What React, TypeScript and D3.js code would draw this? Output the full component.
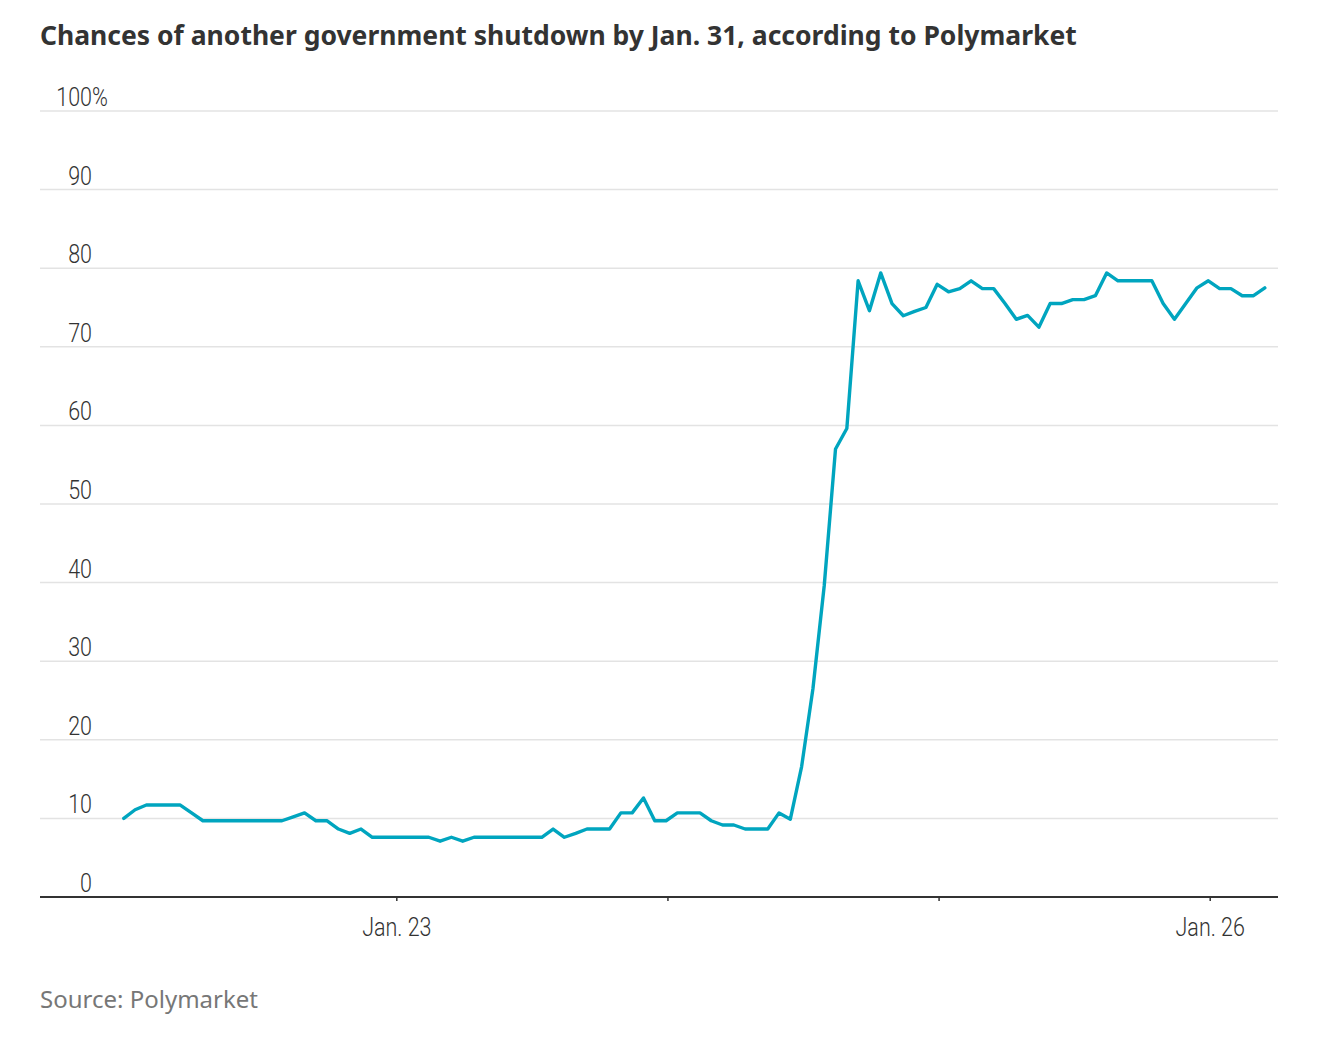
import React from "react";
import * as d3 from "d3";

const title = "Chances of another government shutdown by Jan. 31, according to Polymarket";
const source = "Source: Polymarket";

// Hourly readings starting Jan. 21, 23:50 (chance, %)
const seriesStart = "2026-01-21T23:50:00";
const chance: number[] = [
  10, 11.1, 11.7, 11.7, 11.7, 11.7, 10.7, 9.7, 9.7, 9.7,
  9.7, 9.7, 9.7, 9.7, 9.7, 10.2, 10.7, 9.7, 9.7, 8.65,
  8.1, 8.65, 7.6, 7.6, 7.6, 7.6, 7.6, 7.6, 7.1, 7.6,
  7.1, 7.6, 7.6, 7.6, 7.6, 7.6, 7.6, 7.6, 8.65, 7.6,
  8.1, 8.65, 8.65, 8.65, 10.7, 10.7, 12.6, 9.7, 9.7, 10.7,
  10.7, 10.7, 9.7, 9.16, 9.16, 8.65, 8.65, 8.65, 10.7, 9.9,
  16.6, 26.5, 39.6, 57, 59.6, 78.4, 74.6, 79.4, 75.5, 73.95,
  74.5, 75, 77.95, 77.0, 77.4, 78.4, 77.4, 77.4, 75.5, 73.5,
  74, 72.5, 75.5, 75.5, 76, 76, 76.5, 79.4, 78.4, 78.4,
  78.4, 78.4, 75.5, 73.5, 75.5, 77.5, 78.4, 77.4, 77.4, 76.5,
  76.5, 77.5,
];

const yTicks = [0, 10, 20, 30, 40, 50, 60, 70, 80, 90, 100];
const xTickDates = ["2026-01-23", "2026-01-24", "2026-01-25", "2026-01-26"];
const xTickLabels = ["Jan. 23", "", "", "Jan. 26"];
const xDomain = ["2026-01-21T16:25:00", "2026-01-26T06:00:00"];

const W = 1317;
const H = 1037;
const left = 40;
const right = 1278;
const top = 111;
const bottom = 897;

const labelFont = "Roboto, 'Noto Sans', sans-serif";
const narrow = 0.86;

function NarrowText({
  x,
  y,
  anchor,
  children,
}: {
  x: number;
  y: number;
  anchor: "start" | "middle" | "end";
  children: React.ReactNode;
}) {
  return (
    <text
      transform={`translate(${x},${y}) scale(${narrow},1)`}
      textAnchor={anchor}
      fontFamily={labelFont}
      fontWeight={300}
      fontSize={25}
      fill="#333"
    >
      {children}
    </text>
  );
}

export default function App() {
  const parse = (s: string) => new Date(s);
  const startDate = parse(seriesStart);
  const data = chance.map((v, i) => ({
    t: d3.timeHour.offset(startDate, i),
    v,
  }));

  const x = d3.scaleTime().domain(xDomain.map(parse)).range([left, right]);
  const y = d3.scaleLinear().domain([0, 100]).range([bottom, top]);

  const line = d3
    .line<{ t: Date; v: number }>()
    .x((d) => x(d.t))
    .y((d) => y(d.v));

  return (
    <svg
      width={W}
      height={H}
      style={{ position: "absolute", left: 0, top: 0, background: "#fff" }}
    >
      <text
        x={40}
        y={45}
        fontFamily="'Noto Sans', sans-serif"
        fontWeight={700}
        fontSize={26.5}
        fill="#333"
      >
        {title}
      </text>

      {yTicks.map((t) => (
        <g key={t}>
          {t > 0 && (
            <line
              x1={left}
              x2={right}
              y1={y(t)}
              y2={y(t)}
              stroke="#e3e3e3"
              strokeWidth={1.5}
            />
          )}
          <NarrowText x={92} y={y(t) - 5} anchor="end">
            {t}
          </NarrowText>
          {t === 100 && (
            <NarrowText x={92} y={y(t) - 5} anchor="start">
              %
            </NarrowText>
          )}
        </g>
      ))}

      <path
        d={line(data) || ""}
        fill="none"
        stroke="#00a5bf"
        strokeWidth={3.4}
        strokeLinejoin="round"
        strokeLinecap="round"
      />

      <line x1={left} x2={right} y1={bottom} y2={bottom} stroke="#333" strokeWidth={2} />
      {xTickDates.map((d, i) => {
        const xp = x(parse(d + "T00:00:00"));
        return (
          <g key={d}>
            <line x1={xp} x2={xp} y1={bottom} y2={bottom + 4} stroke="#333" strokeWidth={1.5} />
            {xTickLabels[i] && (
              <NarrowText x={xp} y={936} anchor="middle">
                {xTickLabels[i]}
              </NarrowText>
            )}
          </g>
        );
      })}

      <text
        x={40}
        y={1008}
        fontFamily="'Noto Sans', sans-serif"
        fontSize={24}
        fill="#777"
      >
        {source}
      </text>
    </svg>
  );
}
